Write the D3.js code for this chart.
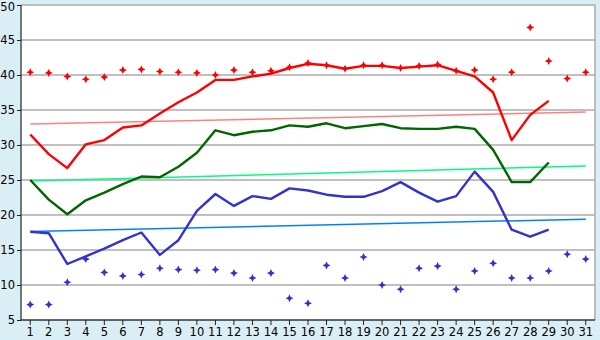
<!DOCTYPE html>
<html><head><meta charset="utf-8">
<script src="https://cdn.jsdelivr.net/npm/d3@7"></script>
<style>html,body{margin:0;padding:0;background:#daeef5;}svg{display:block;}</style>
</head><body>
<svg id="c" width="600" height="340"></svg>
<script>
const days = d3.range(1, 32).map(String);
const yTicks = [5,10,15,20,25,30,35,40,45,50];
const maxDots = [40.4,40.3,39.8,39.4,39.7,40.7,40.8,40.5,40.4,40.3,40.0,40.7,40.4,40.6,41.1,41.7,41.4,40.9,41.4,41.4,41.0,41.3,41.5,40.6,40.7,39.4,40.4,46.8,42.0,39.5,40.4];
const minDots = [7.2,7.2,10.4,13.7,11.8,11.3,11.5,12.4,12.2,12.1,12.2,11.7,11.0,11.7,8.1,7.4,12.8,11.0,14.0,10.0,9.4,12.4,12.7,9.4,12.0,13.1,11.0,11.0,12.0,14.4,13.7];
const maxLine = [31.5,28.7,26.7,30.1,30.7,32.5,32.8,34.5,36.1,37.5,39.3,39.3,39.8,40.2,41.0,41.6,41.4,40.9,41.3,41.3,41.0,41.2,41.4,40.6,39.8,37.5,30.7,34.3,36.3];
const meanLine = [25.0,22.2,20.1,22.1,23.2,24.4,25.5,25.4,26.9,28.9,32.1,31.4,31.9,32.1,32.8,32.6,33.1,32.4,32.7,33.0,32.4,32.3,32.3,32.6,32.3,29.3,24.7,24.7,27.5];
const minLine = [17.6,17.4,13.0,14.1,15.2,16.4,17.5,14.3,16.4,20.6,23.0,21.3,22.7,22.3,23.8,23.5,22.9,22.6,22.6,23.4,24.7,23.2,21.9,22.7,26.2,23.3,17.9,16.9,17.9];
const maxTrend = [33.0, 34.7];
const meanTrend = [24.85, 27.0];
const minTrend = [17.65, 19.4];

const svg = d3.select("#c");
const L = 21, R = 595, T = 5, B = 320;
const x = d3.scaleBand().domain(days).range([L, R]);
const xc = d => x(d) + x.bandwidth() / 2;
const y = d3.scaleLinear().domain([5, 50]).range([B, T]);

svg.append("rect").attr("x", L).attr("y", T).attr("width", R - L).attr("height", B - T).attr("fill", "#fff");

// gridlines
svg.append("g").selectAll("line").data(yTicks.filter(v => v > 5)).join("line")
  .attr("x1", L).attr("x2", R).attr("y1", d => y(d)).attr("y2", d => y(d))
  .attr("stroke", "#ababab").attr("stroke-width", 1.3);
// right border
svg.append("line").attr("x1", R).attr("x2", R).attr("y1", T).attr("y2", B).attr("stroke", "#ababab").attr("stroke-width", 1.5);

// axes
const yAxis = svg.append("g").attr("transform", `translate(${L},0)`)
  .call(d3.axisLeft(y).tickValues(yTicks).tickSize(4).tickPadding(2));
const xAxis = svg.append("g").attr("transform", `translate(0,${B})`)
  .call(d3.axisBottom(x).tickSize(5).tickPadding(3));
[yAxis, xAxis].forEach(g => {
  g.select(".domain").attr("stroke", "#333").attr("stroke-width", 1.3);
  g.selectAll(".tick line").attr("stroke", "#222");
  g.selectAll("text").attr("font-family", "DejaVu Sans, Verdana, sans-serif").attr("font-size", 11.5).attr("fill", "#000");
});
yAxis.selectAll(".tick").filter(d => d === 50).select("text").attr("dy", "0.32em").attr("y", 2);
yAxis.select(".domain").attr("d", `M0,${T}V${B}`);
xAxis.select(".domain").attr("d", `M${L},0H${R}`);

// trend lines
const trends = [[maxTrend, "#ff8080"], [meanTrend, "#00ff80"], [minTrend, "#0080ff"]];
trends.forEach(([t, c]) => {
  svg.append("line").attr("x1", xc(days[0])).attr("x2", xc(days[30]))
    .attr("y1", y(t[0])).attr("y2", y(t[1])).attr("stroke", c).attr("stroke-width", 1.5);
});

// lines
const lineGen = d3.line().x((d, i) => xc(days[i])).y(d => y(d));
[[maxLine, "#ff0000"], [meanLine, "#006600"], [minLine, "#3333cc"]].forEach(([s, c]) => {
  svg.append("path").attr("d", lineGen(s)).attr("fill", "none").attr("stroke", c).attr("stroke-width", 2.4).attr("stroke-linejoin", "round");
});

// markers
const star = "M0,-4L1.3,-1.3L4,0L1.3,1.3L0,4L-1.3,1.3L-4,0L-1.3,-1.3Z";
[[maxDots, "#ff0000"], [minDots, "#3333cc"]].forEach(([s, c]) => {
  svg.append("g").selectAll("path").data(s).join("path")
    .attr("d", star).attr("fill", c)
    .attr("transform", (d, i) => `translate(${xc(days[i])},${y(d)})`);
});
</script>
</body></html>
